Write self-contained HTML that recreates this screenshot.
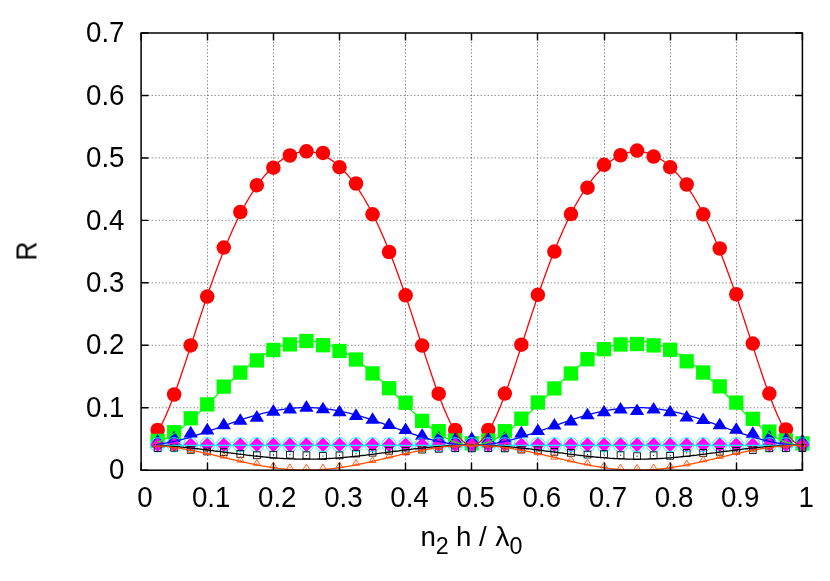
<!DOCTYPE html>
<html><head><meta charset="utf-8"><title>R vs n2 h / lambda0</title>
<style>html,body{margin:0;padding:0;background:#fff}svg{display:block}text{font-family:"Liberation Sans",sans-serif;fill:#000}</style></head><body>
<svg width="830" height="581" viewBox="0 0 830 581">
<rect width="830" height="581" fill="#fff"/>
<path d="M207.5 470.2V33M273.5 470.2V33M339.5 470.2V33M405.5 470.2V33M471.5 470.2V33M537.5 470.2V33M604.5 470.2V33M670.5 470.2V33M736.5 470.2V33M141.1 407.74H802.4M141.1 345.29H802.4M141.1 282.83H802.4M141.1 220.37H802.4M141.1 157.91H802.4M141.1 95.46H802.4" stroke="#000" stroke-opacity="0.5" stroke-width="1" stroke-dasharray="1.3 2.2" fill="none"/>
<g font-size="27.7" opacity="0.999">
<text transform="translate(124.5,479.4) scale(1,1.035)" text-anchor="end">0</text>
<text transform="translate(124.5,416.94) scale(1,1.035)" text-anchor="end">0.1</text>
<text transform="translate(124.5,354.49) scale(1,1.035)" text-anchor="end">0.2</text>
<text transform="translate(124.5,292.03) scale(1,1.035)" text-anchor="end">0.3</text>
<text transform="translate(124.5,229.57) scale(1,1.035)" text-anchor="end">0.4</text>
<text transform="translate(124.5,167.11) scale(1,1.035)" text-anchor="end">0.5</text>
<text transform="translate(124.5,104.66) scale(1,1.035)" text-anchor="end">0.6</text>
<text transform="translate(124.5,42.2) scale(1,1.035)" text-anchor="end">0.7</text>
<text transform="translate(145,507.3) scale(1,1.035)" text-anchor="middle">0</text>
<text transform="translate(211.13,507.3) scale(1,1.035)" text-anchor="middle">0.1</text>
<text transform="translate(277.26,507.3) scale(1,1.035)" text-anchor="middle">0.2</text>
<text transform="translate(343.39,507.3) scale(1,1.035)" text-anchor="middle">0.3</text>
<text transform="translate(409.52,507.3) scale(1,1.035)" text-anchor="middle">0.4</text>
<text transform="translate(475.65,507.3) scale(1,1.035)" text-anchor="middle">0.5</text>
<text transform="translate(541.78,507.3) scale(1,1.035)" text-anchor="middle">0.6</text>
<text transform="translate(607.91,507.3) scale(1,1.035)" text-anchor="middle">0.7</text>
<text transform="translate(674.04,507.3) scale(1,1.035)" text-anchor="middle">0.8</text>
<text transform="translate(740.17,507.3) scale(1,1.035)" text-anchor="middle">0.9</text>
<text transform="translate(806.3,507.3) scale(1,1.035)" text-anchor="middle">1</text>
<text transform="translate(37,251.1) rotate(-90) scale(0.95,1.06)" text-anchor="middle">R</text>
<text x="420.6" y="545.7">n</text>
<text x="435.7" y="553.8" font-size="23.27">2</text>
<text x="456" y="545.7">h</text>
<text x="479.1" y="545.7">/</text>
<text transform="translate(495.3,545.7) scale(1.03,1)">λ</text>
<text x="509.6" y="553.9" font-size="23.27">0</text>
</g>
<g>
<circle cx="157.63" cy="430" r="7.25" fill="#ff0000"/>
<circle cx="174.16" cy="394.5" r="7.25" fill="#ff0000"/>
<circle cx="190.7" cy="345.4" r="7.25" fill="#ff0000"/>
<circle cx="207.23" cy="296.6" r="7.25" fill="#ff0000"/>
<circle cx="223.76" cy="247.6" r="7.25" fill="#ff0000"/>
<circle cx="240.3" cy="212" r="7.25" fill="#ff0000"/>
<circle cx="256.83" cy="185.2" r="7.25" fill="#ff0000"/>
<circle cx="273.36" cy="167.7" r="7.25" fill="#ff0000"/>
<circle cx="289.89" cy="155.5" r="7.25" fill="#ff0000"/>
<circle cx="306.42" cy="151.3" r="7.25" fill="#ff0000"/>
<circle cx="322.96" cy="152.9" r="7.25" fill="#ff0000"/>
<circle cx="339.49" cy="167.2" r="7.25" fill="#ff0000"/>
<circle cx="356.02" cy="183.5" r="7.25" fill="#ff0000"/>
<circle cx="372.56" cy="214.3" r="7.25" fill="#ff0000"/>
<circle cx="389.09" cy="252" r="7.25" fill="#ff0000"/>
<circle cx="405.62" cy="295.3" r="7.25" fill="#ff0000"/>
<circle cx="422.15" cy="345.6" r="7.25" fill="#ff0000"/>
<circle cx="438.68" cy="393.65" r="7.25" fill="#ff0000"/>
<circle cx="455.22" cy="430" r="7.25" fill="#ff0000"/>
<circle cx="471.75" cy="444" r="7.25" fill="#ff0000"/>
<circle cx="488.28" cy="430" r="7.25" fill="#ff0000"/>
<circle cx="504.82" cy="393.6" r="7.25" fill="#ff0000"/>
<circle cx="521.35" cy="344.7" r="7.25" fill="#ff0000"/>
<circle cx="537.88" cy="294.8" r="7.25" fill="#ff0000"/>
<circle cx="554.41" cy="251.6" r="7.25" fill="#ff0000"/>
<circle cx="570.94" cy="214.1" r="7.25" fill="#ff0000"/>
<circle cx="587.48" cy="187.7" r="7.25" fill="#ff0000"/>
<circle cx="604.01" cy="164.8" r="7.25" fill="#ff0000"/>
<circle cx="620.54" cy="155.25" r="7.25" fill="#ff0000"/>
<circle cx="637.07" cy="150.6" r="7.25" fill="#ff0000"/>
<circle cx="653.61" cy="156.6" r="7.25" fill="#ff0000"/>
<circle cx="670.14" cy="167.2" r="7.25" fill="#ff0000"/>
<circle cx="686.67" cy="184.5" r="7.25" fill="#ff0000"/>
<circle cx="703.21" cy="214.3" r="7.25" fill="#ff0000"/>
<circle cx="719.74" cy="248.5" r="7.25" fill="#ff0000"/>
<circle cx="736.27" cy="294.25" r="7.25" fill="#ff0000"/>
<circle cx="752.8" cy="343.6" r="7.25" fill="#ff0000"/>
<circle cx="769.34" cy="393.6" r="7.25" fill="#ff0000"/>
<circle cx="785.87" cy="429.4" r="7.25" fill="#ff0000"/>
<circle cx="802.4" cy="444" r="7.25" fill="#ff0000"/>
</g>
<g>
<rect x="150.48" y="433.75" width="14.3" height="14.3" fill="#00ff00"/>
<rect x="167.01" y="425.05" width="14.3" height="14.3" fill="#00ff00"/>
<rect x="183.55" y="411.15" width="14.3" height="14.3" fill="#00ff00"/>
<rect x="200.08" y="397.25" width="14.3" height="14.3" fill="#00ff00"/>
<rect x="216.61" y="379.45" width="14.3" height="14.3" fill="#00ff00"/>
<rect x="233.15" y="365.45" width="14.3" height="14.3" fill="#00ff00"/>
<rect x="249.68" y="353.25" width="14.3" height="14.3" fill="#00ff00"/>
<rect x="266.21" y="342.85" width="14.3" height="14.3" fill="#00ff00"/>
<rect x="282.74" y="337.25" width="14.3" height="14.3" fill="#00ff00"/>
<rect x="299.27" y="333.85" width="14.3" height="14.3" fill="#00ff00"/>
<rect x="315.81" y="338.05" width="14.3" height="14.3" fill="#00ff00"/>
<rect x="332.34" y="343.85" width="14.3" height="14.3" fill="#00ff00"/>
<rect x="348.87" y="352.35" width="14.3" height="14.3" fill="#00ff00"/>
<rect x="365.41" y="366.25" width="14.3" height="14.3" fill="#00ff00"/>
<rect x="381.94" y="381.05" width="14.3" height="14.3" fill="#00ff00"/>
<rect x="398.47" y="395.55" width="14.3" height="14.3" fill="#00ff00"/>
<rect x="415" y="413.75" width="14.3" height="14.3" fill="#00ff00"/>
<rect x="431.53" y="424.05" width="14.3" height="14.3" fill="#00ff00"/>
<rect x="448.07" y="433.35" width="14.3" height="14.3" fill="#00ff00"/>
<rect x="464.6" y="436.15" width="14.3" height="14.3" fill="#00ff00"/>
<rect x="481.13" y="433.35" width="14.3" height="14.3" fill="#00ff00"/>
<rect x="497.67" y="424.05" width="14.3" height="14.3" fill="#00ff00"/>
<rect x="514.2" y="411.55" width="14.3" height="14.3" fill="#00ff00"/>
<rect x="530.73" y="395.35" width="14.3" height="14.3" fill="#00ff00"/>
<rect x="547.26" y="381.25" width="14.3" height="14.3" fill="#00ff00"/>
<rect x="563.79" y="366.35" width="14.3" height="14.3" fill="#00ff00"/>
<rect x="580.33" y="352.05" width="14.3" height="14.3" fill="#00ff00"/>
<rect x="596.86" y="342.05" width="14.3" height="14.3" fill="#00ff00"/>
<rect x="613.39" y="337.35" width="14.3" height="14.3" fill="#00ff00"/>
<rect x="629.92" y="336.85" width="14.3" height="14.3" fill="#00ff00"/>
<rect x="646.46" y="338.25" width="14.3" height="14.3" fill="#00ff00"/>
<rect x="662.99" y="342.65" width="14.3" height="14.3" fill="#00ff00"/>
<rect x="679.52" y="354.15" width="14.3" height="14.3" fill="#00ff00"/>
<rect x="696.06" y="365.35" width="14.3" height="14.3" fill="#00ff00"/>
<rect x="712.59" y="379.25" width="14.3" height="14.3" fill="#00ff00"/>
<rect x="729.12" y="395.45" width="14.3" height="14.3" fill="#00ff00"/>
<rect x="745.65" y="411.65" width="14.3" height="14.3" fill="#00ff00"/>
<rect x="762.19" y="424.45" width="14.3" height="14.3" fill="#00ff00"/>
<rect x="778.72" y="433.35" width="14.3" height="14.3" fill="#00ff00"/>
<rect x="795.25" y="436.25" width="14.3" height="14.3" fill="#00ff00"/>
</g>
<g>
<path d="M157.63 433.99L164.78 445.57H150.48Z" fill="#0000ff"/>
<path d="M174.16 430.69L181.31 442.27H167.01Z" fill="#0000ff"/>
<path d="M190.7 425.79L197.85 437.38H183.55Z" fill="#0000ff"/>
<path d="M207.23 422.79L214.38 434.38H200.08Z" fill="#0000ff"/>
<path d="M223.76 417.59L230.91 429.18H216.61Z" fill="#0000ff"/>
<path d="M240.3 413.14L247.45 424.72H233.15Z" fill="#0000ff"/>
<path d="M256.83 410.09L263.98 421.68H249.68Z" fill="#0000ff"/>
<path d="M273.36 404.09L280.51 415.68H266.21Z" fill="#0000ff"/>
<path d="M289.89 401.89L297.04 413.47H282.74Z" fill="#0000ff"/>
<path d="M306.42 400.09L313.57 411.68H299.27Z" fill="#0000ff"/>
<path d="M322.96 401.69L330.11 413.27H315.81Z" fill="#0000ff"/>
<path d="M339.49 404.69L346.64 416.27H332.34Z" fill="#0000ff"/>
<path d="M356.02 408.29L363.17 419.88H348.87Z" fill="#0000ff"/>
<path d="M372.56 412.19L379.7 423.77H365.41Z" fill="#0000ff"/>
<path d="M389.09 417.39L396.24 428.97H381.94Z" fill="#0000ff"/>
<path d="M405.62 422.49L412.77 434.07H398.47Z" fill="#0000ff"/>
<path d="M422.15 428.19L429.3 439.77H415Z" fill="#0000ff"/>
<path d="M438.68 430.69L445.83 442.27H431.53Z" fill="#0000ff"/>
<path d="M455.22 432.19L462.37 443.77H448.07Z" fill="#0000ff"/>
<path d="M471.75 431.49L478.9 443.07H464.6Z" fill="#0000ff"/>
<path d="M488.28 431.89L495.43 443.47H481.13Z" fill="#0000ff"/>
<path d="M504.82 430.99L511.97 442.57H497.67Z" fill="#0000ff"/>
<path d="M521.35 425.79L528.5 437.38H514.2Z" fill="#0000ff"/>
<path d="M537.88 423.39L545.03 434.97H530.73Z" fill="#0000ff"/>
<path d="M554.41 417.99L561.56 429.57H547.26Z" fill="#0000ff"/>
<path d="M570.94 413.99L578.09 425.57H563.79Z" fill="#0000ff"/>
<path d="M587.48 407.69L594.63 419.27H580.33Z" fill="#0000ff"/>
<path d="M604.01 404.69L611.16 416.27H596.86Z" fill="#0000ff"/>
<path d="M620.54 401.89L627.69 413.47H613.39Z" fill="#0000ff"/>
<path d="M637.07 403.49L644.22 415.07H629.92Z" fill="#0000ff"/>
<path d="M653.61 401.89L660.76 413.47H646.46Z" fill="#0000ff"/>
<path d="M670.14 404.69L677.29 416.27H662.99Z" fill="#0000ff"/>
<path d="M686.67 409.89L693.82 421.47H679.52Z" fill="#0000ff"/>
<path d="M703.21 412.49L710.36 424.07H696.06Z" fill="#0000ff"/>
<path d="M719.74 417.69L726.89 429.27H712.59Z" fill="#0000ff"/>
<path d="M736.27 422.19L743.42 433.77H729.12Z" fill="#0000ff"/>
<path d="M752.8 426.19L759.95 437.77H745.65Z" fill="#0000ff"/>
<path d="M769.34 430.09L776.49 441.68H762.19Z" fill="#0000ff"/>
<path d="M785.87 432.49L793.02 444.07H778.72Z" fill="#0000ff"/>
<path d="M802.4 433.69L809.55 445.27H795.25Z" fill="#0000ff"/>
</g>
<g>
<path d="M157.63 437.4L165.03 444.8L157.63 452.2L150.23 444.8Z" fill="#ff00ff"/>
<path d="M174.16 437.4L181.56 444.8L174.16 452.2L166.76 444.8Z" fill="#ff00ff"/>
<path d="M190.7 437.4L198.1 444.8L190.7 452.2L183.3 444.8Z" fill="#ff00ff"/>
<path d="M207.23 437.4L214.63 444.8L207.23 452.2L199.83 444.8Z" fill="#ff00ff"/>
<path d="M223.76 437.4L231.16 444.8L223.76 452.2L216.36 444.8Z" fill="#ff00ff"/>
<path d="M240.3 437.4L247.7 444.8L240.3 452.2L232.9 444.8Z" fill="#ff00ff"/>
<path d="M256.83 437.4L264.23 444.8L256.83 452.2L249.43 444.8Z" fill="#ff00ff"/>
<path d="M273.36 437.4L280.76 444.8L273.36 452.2L265.96 444.8Z" fill="#ff00ff"/>
<path d="M289.89 437.4L297.29 444.8L289.89 452.2L282.49 444.8Z" fill="#ff00ff"/>
<path d="M306.42 437.4L313.82 444.8L306.42 452.2L299.02 444.8Z" fill="#ff00ff"/>
<path d="M322.96 437.4L330.36 444.8L322.96 452.2L315.56 444.8Z" fill="#ff00ff"/>
<path d="M339.49 437.4L346.89 444.8L339.49 452.2L332.09 444.8Z" fill="#ff00ff"/>
<path d="M356.02 437.4L363.42 444.8L356.02 452.2L348.62 444.8Z" fill="#ff00ff"/>
<path d="M372.56 437.4L379.95 444.8L372.56 452.2L365.16 444.8Z" fill="#ff00ff"/>
<path d="M389.09 437.4L396.49 444.8L389.09 452.2L381.69 444.8Z" fill="#ff00ff"/>
<path d="M405.62 437.4L413.02 444.8L405.62 452.2L398.22 444.8Z" fill="#ff00ff"/>
<path d="M422.15 437.4L429.55 444.8L422.15 452.2L414.75 444.8Z" fill="#ff00ff"/>
<path d="M438.68 437.4L446.08 444.8L438.68 452.2L431.28 444.8Z" fill="#ff00ff"/>
<path d="M455.22 437.4L462.62 444.8L455.22 452.2L447.82 444.8Z" fill="#ff00ff"/>
<path d="M471.75 437.4L479.15 444.8L471.75 452.2L464.35 444.8Z" fill="#ff00ff"/>
<path d="M488.28 437.4L495.68 444.8L488.28 452.2L480.88 444.8Z" fill="#ff00ff"/>
<path d="M504.82 437.4L512.22 444.8L504.82 452.2L497.42 444.8Z" fill="#ff00ff"/>
<path d="M521.35 437.4L528.75 444.8L521.35 452.2L513.95 444.8Z" fill="#ff00ff"/>
<path d="M537.88 437.4L545.28 444.8L537.88 452.2L530.48 444.8Z" fill="#ff00ff"/>
<path d="M554.41 437.4L561.81 444.8L554.41 452.2L547.01 444.8Z" fill="#ff00ff"/>
<path d="M570.94 437.4L578.34 444.8L570.94 452.2L563.54 444.8Z" fill="#ff00ff"/>
<path d="M587.48 437.4L594.88 444.8L587.48 452.2L580.08 444.8Z" fill="#ff00ff"/>
<path d="M604.01 437.4L611.41 444.8L604.01 452.2L596.61 444.8Z" fill="#ff00ff"/>
<path d="M620.54 437.4L627.94 444.8L620.54 452.2L613.14 444.8Z" fill="#ff00ff"/>
<path d="M637.07 437.4L644.47 444.8L637.07 452.2L629.67 444.8Z" fill="#ff00ff"/>
<path d="M653.61 437.4L661.01 444.8L653.61 452.2L646.21 444.8Z" fill="#ff00ff"/>
<path d="M670.14 437.4L677.54 444.8L670.14 452.2L662.74 444.8Z" fill="#ff00ff"/>
<path d="M686.67 437.4L694.07 444.8L686.67 452.2L679.27 444.8Z" fill="#ff00ff"/>
<path d="M703.21 437.4L710.61 444.8L703.21 452.2L695.81 444.8Z" fill="#ff00ff"/>
<path d="M719.74 437.4L727.14 444.8L719.74 452.2L712.34 444.8Z" fill="#ff00ff"/>
<path d="M736.27 437.4L743.67 444.8L736.27 452.2L728.87 444.8Z" fill="#ff00ff"/>
<path d="M752.8 437.4L760.2 444.8L752.8 452.2L745.4 444.8Z" fill="#ff00ff"/>
<path d="M769.34 437.4L776.74 444.8L769.34 452.2L761.94 444.8Z" fill="#ff00ff"/>
<path d="M785.87 437.4L793.27 444.8L785.87 452.2L778.47 444.8Z" fill="#ff00ff"/>
<path d="M802.4 437.4L809.8 444.8L802.4 452.2L795 444.8Z" fill="#ff00ff"/>
</g>
<g>
<circle cx="157.63" cy="444.8" r="7.15" fill="none" stroke="#00ffff" stroke-width="1.0"/>
<circle cx="174.16" cy="444.8" r="7.15" fill="none" stroke="#00ffff" stroke-width="1.0"/>
<circle cx="190.7" cy="444.8" r="7.15" fill="none" stroke="#00ffff" stroke-width="1.0"/>
<circle cx="207.23" cy="444.8" r="7.15" fill="none" stroke="#00ffff" stroke-width="1.0"/>
<circle cx="223.76" cy="444.8" r="7.15" fill="none" stroke="#00ffff" stroke-width="1.0"/>
<circle cx="240.3" cy="444.8" r="7.15" fill="none" stroke="#00ffff" stroke-width="1.0"/>
<circle cx="256.83" cy="444.8" r="7.15" fill="none" stroke="#00ffff" stroke-width="1.0"/>
<circle cx="273.36" cy="444.8" r="7.15" fill="none" stroke="#00ffff" stroke-width="1.0"/>
<circle cx="289.89" cy="444.8" r="7.15" fill="none" stroke="#00ffff" stroke-width="1.0"/>
<circle cx="306.42" cy="444.8" r="7.15" fill="none" stroke="#00ffff" stroke-width="1.0"/>
<circle cx="322.96" cy="444.8" r="7.15" fill="none" stroke="#00ffff" stroke-width="1.0"/>
<circle cx="339.49" cy="444.8" r="7.15" fill="none" stroke="#00ffff" stroke-width="1.0"/>
<circle cx="356.02" cy="444.8" r="7.15" fill="none" stroke="#00ffff" stroke-width="1.0"/>
<circle cx="372.56" cy="444.8" r="7.15" fill="none" stroke="#00ffff" stroke-width="1.0"/>
<circle cx="389.09" cy="444.8" r="7.15" fill="none" stroke="#00ffff" stroke-width="1.0"/>
<circle cx="405.62" cy="444.8" r="7.15" fill="none" stroke="#00ffff" stroke-width="1.0"/>
<circle cx="422.15" cy="444.8" r="7.15" fill="none" stroke="#00ffff" stroke-width="1.0"/>
<circle cx="438.68" cy="444.8" r="7.15" fill="none" stroke="#00ffff" stroke-width="1.0"/>
<circle cx="455.22" cy="444.8" r="7.15" fill="none" stroke="#00ffff" stroke-width="1.0"/>
<circle cx="471.75" cy="444.8" r="7.15" fill="none" stroke="#00ffff" stroke-width="1.0"/>
<circle cx="488.28" cy="444.8" r="7.15" fill="none" stroke="#00ffff" stroke-width="1.0"/>
<circle cx="504.82" cy="444.8" r="7.15" fill="none" stroke="#00ffff" stroke-width="1.0"/>
<circle cx="521.35" cy="444.8" r="7.15" fill="none" stroke="#00ffff" stroke-width="1.0"/>
<circle cx="537.88" cy="444.8" r="7.15" fill="none" stroke="#00ffff" stroke-width="1.0"/>
<circle cx="554.41" cy="444.8" r="7.15" fill="none" stroke="#00ffff" stroke-width="1.0"/>
<circle cx="570.94" cy="444.8" r="7.15" fill="none" stroke="#00ffff" stroke-width="1.0"/>
<circle cx="587.48" cy="444.8" r="7.15" fill="none" stroke="#00ffff" stroke-width="1.0"/>
<circle cx="604.01" cy="444.8" r="7.15" fill="none" stroke="#00ffff" stroke-width="1.0"/>
<circle cx="620.54" cy="444.8" r="7.15" fill="none" stroke="#00ffff" stroke-width="1.0"/>
<circle cx="637.07" cy="444.8" r="7.15" fill="none" stroke="#00ffff" stroke-width="1.0"/>
<circle cx="653.61" cy="444.8" r="7.15" fill="none" stroke="#00ffff" stroke-width="1.0"/>
<circle cx="670.14" cy="444.8" r="7.15" fill="none" stroke="#00ffff" stroke-width="1.0"/>
<circle cx="686.67" cy="444.8" r="7.15" fill="none" stroke="#00ffff" stroke-width="1.0"/>
<circle cx="703.21" cy="444.8" r="7.15" fill="none" stroke="#00ffff" stroke-width="1.0"/>
<circle cx="719.74" cy="444.8" r="7.15" fill="none" stroke="#00ffff" stroke-width="1.0"/>
<circle cx="736.27" cy="444.8" r="7.15" fill="none" stroke="#00ffff" stroke-width="1.0"/>
<circle cx="752.8" cy="444.8" r="7.15" fill="none" stroke="#00ffff" stroke-width="1.0"/>
<circle cx="769.34" cy="444.8" r="7.15" fill="none" stroke="#00ffff" stroke-width="1.0"/>
<circle cx="785.87" cy="444.8" r="7.15" fill="none" stroke="#00ffff" stroke-width="1.0"/>
<circle cx="802.4" cy="444.8" r="7.15" fill="none" stroke="#00ffff" stroke-width="1.0"/>
</g>
<g>
<rect x="154.23" y="444.6" width="6.8" height="6.8" fill="none" stroke="#000000" stroke-width="0.85"/><circle cx="157.63" cy="448" r="0.6" fill="#000000"/>
<rect x="170.76" y="444.3" width="6.8" height="6.8" fill="none" stroke="#000000" stroke-width="0.85"/><circle cx="174.16" cy="447.7" r="0.6" fill="#000000"/>
<rect x="187.3" y="446.5" width="6.8" height="6.8" fill="none" stroke="#000000" stroke-width="0.85"/><circle cx="190.7" cy="449.9" r="0.6" fill="#000000"/>
<rect x="203.83" y="448.1" width="6.8" height="6.8" fill="none" stroke="#000000" stroke-width="0.85"/><circle cx="207.23" cy="451.5" r="0.6" fill="#000000"/>
<rect x="220.36" y="448.8" width="6.8" height="6.8" fill="none" stroke="#000000" stroke-width="0.85"/><circle cx="223.76" cy="452.2" r="0.6" fill="#000000"/>
<rect x="236.9" y="450.5" width="6.8" height="6.8" fill="none" stroke="#000000" stroke-width="0.85"/><circle cx="240.3" cy="453.9" r="0.6" fill="#000000"/>
<rect x="253.43" y="451.9" width="6.8" height="6.8" fill="none" stroke="#000000" stroke-width="0.85"/><circle cx="256.83" cy="455.3" r="0.6" fill="#000000"/>
<rect x="269.96" y="451.3" width="6.8" height="6.8" fill="none" stroke="#000000" stroke-width="0.85"/><circle cx="273.36" cy="454.7" r="0.6" fill="#000000"/>
<rect x="286.49" y="451.3" width="6.8" height="6.8" fill="none" stroke="#000000" stroke-width="0.85"/><circle cx="289.89" cy="454.7" r="0.6" fill="#000000"/>
<rect x="303.02" y="451.9" width="6.8" height="6.8" fill="none" stroke="#000000" stroke-width="0.85"/><circle cx="306.42" cy="455.3" r="0.6" fill="#000000"/>
<rect x="319.56" y="452.6" width="6.8" height="6.8" fill="none" stroke="#000000" stroke-width="0.85"/><circle cx="322.96" cy="456" r="0.6" fill="#000000"/>
<rect x="336.09" y="452" width="6.8" height="6.8" fill="none" stroke="#000000" stroke-width="0.85"/><circle cx="339.49" cy="455.4" r="0.6" fill="#000000"/>
<rect x="352.62" y="450.2" width="6.8" height="6.8" fill="none" stroke="#000000" stroke-width="0.85"/><circle cx="356.02" cy="453.6" r="0.6" fill="#000000"/>
<rect x="369.16" y="449.3" width="6.8" height="6.8" fill="none" stroke="#000000" stroke-width="0.85"/><circle cx="372.56" cy="452.7" r="0.6" fill="#000000"/>
<rect x="385.69" y="447.3" width="6.8" height="6.8" fill="none" stroke="#000000" stroke-width="0.85"/><circle cx="389.09" cy="450.7" r="0.6" fill="#000000"/>
<rect x="402.22" y="447.6" width="6.8" height="6.8" fill="none" stroke="#000000" stroke-width="0.85"/><circle cx="405.62" cy="451" r="0.6" fill="#000000"/>
<rect x="418.75" y="446.2" width="6.8" height="6.8" fill="none" stroke="#000000" stroke-width="0.85"/><circle cx="422.15" cy="449.6" r="0.6" fill="#000000"/>
<rect x="435.28" y="445.4" width="6.8" height="6.8" fill="none" stroke="#000000" stroke-width="0.85"/><circle cx="438.68" cy="448.8" r="0.6" fill="#000000"/>
<rect x="451.82" y="444.8" width="6.8" height="6.8" fill="none" stroke="#000000" stroke-width="0.85"/><circle cx="455.22" cy="448.2" r="0.6" fill="#000000"/>
<rect x="468.35" y="445" width="6.8" height="6.8" fill="none" stroke="#000000" stroke-width="0.85"/><circle cx="471.75" cy="448.4" r="0.6" fill="#000000"/>
<rect x="484.88" y="444.8" width="6.8" height="6.8" fill="none" stroke="#000000" stroke-width="0.85"/><circle cx="488.28" cy="448.2" r="0.6" fill="#000000"/>
<rect x="501.42" y="445" width="6.8" height="6.8" fill="none" stroke="#000000" stroke-width="0.85"/><circle cx="504.82" cy="448.4" r="0.6" fill="#000000"/>
<rect x="517.95" y="446.2" width="6.8" height="6.8" fill="none" stroke="#000000" stroke-width="0.85"/><circle cx="521.35" cy="449.6" r="0.6" fill="#000000"/>
<rect x="534.48" y="446.9" width="6.8" height="6.8" fill="none" stroke="#000000" stroke-width="0.85"/><circle cx="537.88" cy="450.3" r="0.6" fill="#000000"/>
<rect x="551.01" y="448.4" width="6.8" height="6.8" fill="none" stroke="#000000" stroke-width="0.85"/><circle cx="554.41" cy="451.8" r="0.6" fill="#000000"/>
<rect x="567.54" y="449.4" width="6.8" height="6.8" fill="none" stroke="#000000" stroke-width="0.85"/><circle cx="570.94" cy="452.8" r="0.6" fill="#000000"/>
<rect x="584.08" y="451.2" width="6.8" height="6.8" fill="none" stroke="#000000" stroke-width="0.85"/><circle cx="587.48" cy="454.6" r="0.6" fill="#000000"/>
<rect x="600.61" y="450.7" width="6.8" height="6.8" fill="none" stroke="#000000" stroke-width="0.85"/><circle cx="604.01" cy="454.1" r="0.6" fill="#000000"/>
<rect x="617.14" y="451.8" width="6.8" height="6.8" fill="none" stroke="#000000" stroke-width="0.85"/><circle cx="620.54" cy="455.2" r="0.6" fill="#000000"/>
<rect x="633.67" y="452.8" width="6.8" height="6.8" fill="none" stroke="#000000" stroke-width="0.85"/><circle cx="637.07" cy="456.2" r="0.6" fill="#000000"/>
<rect x="650.21" y="451.9" width="6.8" height="6.8" fill="none" stroke="#000000" stroke-width="0.85"/><circle cx="653.61" cy="455.3" r="0.6" fill="#000000"/>
<rect x="666.74" y="452.4" width="6.8" height="6.8" fill="none" stroke="#000000" stroke-width="0.85"/><circle cx="670.14" cy="455.8" r="0.6" fill="#000000"/>
<rect x="683.27" y="449.6" width="6.8" height="6.8" fill="none" stroke="#000000" stroke-width="0.85"/><circle cx="686.67" cy="453" r="0.6" fill="#000000"/>
<rect x="699.81" y="449.5" width="6.8" height="6.8" fill="none" stroke="#000000" stroke-width="0.85"/><circle cx="703.21" cy="452.9" r="0.6" fill="#000000"/>
<rect x="716.34" y="448.4" width="6.8" height="6.8" fill="none" stroke="#000000" stroke-width="0.85"/><circle cx="719.74" cy="451.8" r="0.6" fill="#000000"/>
<rect x="732.87" y="447.5" width="6.8" height="6.8" fill="none" stroke="#000000" stroke-width="0.85"/><circle cx="736.27" cy="450.9" r="0.6" fill="#000000"/>
<rect x="749.4" y="446.7" width="6.8" height="6.8" fill="none" stroke="#000000" stroke-width="0.85"/><circle cx="752.8" cy="450.1" r="0.6" fill="#000000"/>
<rect x="765.94" y="444.9" width="6.8" height="6.8" fill="none" stroke="#000000" stroke-width="0.85"/><circle cx="769.34" cy="448.3" r="0.6" fill="#000000"/>
<rect x="782.47" y="444.7" width="6.8" height="6.8" fill="none" stroke="#000000" stroke-width="0.85"/><circle cx="785.87" cy="448.1" r="0.6" fill="#000000"/>
<rect x="799" y="444.6" width="6.8" height="6.8" fill="none" stroke="#000000" stroke-width="0.85"/><circle cx="802.4" cy="448" r="0.6" fill="#000000"/>
</g>
<g>
<path d="M157.63 441.08L161.13 446.75H154.13Z" fill="none" stroke="#ff4d00" stroke-width="0.9"/><circle cx="157.63" cy="445" r="0.6" fill="#ff4d00"/>
<path d="M174.16 444.08L177.66 449.75H170.66Z" fill="none" stroke="#ff4d00" stroke-width="0.9"/><circle cx="174.16" cy="448" r="0.6" fill="#ff4d00"/>
<path d="M190.7 446.98L194.2 452.65H187.2Z" fill="none" stroke="#ff4d00" stroke-width="0.9"/><circle cx="190.7" cy="450.9" r="0.6" fill="#ff4d00"/>
<path d="M207.23 448.48L210.73 454.15H203.73Z" fill="none" stroke="#ff4d00" stroke-width="0.9"/><circle cx="207.23" cy="452.4" r="0.6" fill="#ff4d00"/>
<path d="M223.76 452.38L227.26 458.05H220.26Z" fill="none" stroke="#ff4d00" stroke-width="0.9"/><circle cx="223.76" cy="456.3" r="0.6" fill="#ff4d00"/>
<path d="M240.3 456.48L243.8 462.15H236.8Z" fill="none" stroke="#ff4d00" stroke-width="0.9"/><circle cx="240.3" cy="460.4" r="0.6" fill="#ff4d00"/>
<path d="M256.83 459.58L260.33 465.25H253.33Z" fill="none" stroke="#ff4d00" stroke-width="0.9"/><circle cx="256.83" cy="463.5" r="0.6" fill="#ff4d00"/>
<path d="M273.36 462.18L276.86 467.85H269.86Z" fill="none" stroke="#ff4d00" stroke-width="0.9"/><circle cx="273.36" cy="466.1" r="0.6" fill="#ff4d00"/>
<path d="M289.89 463.78L293.39 469.45H286.39Z" fill="none" stroke="#ff4d00" stroke-width="0.9"/><circle cx="289.89" cy="467.7" r="0.6" fill="#ff4d00"/>
<path d="M306.42 464.08L309.92 469.75H302.92Z" fill="none" stroke="#ff4d00" stroke-width="0.9"/><circle cx="306.42" cy="468" r="0.6" fill="#ff4d00"/>
<path d="M322.96 464.08L326.46 469.75H319.46Z" fill="none" stroke="#ff4d00" stroke-width="0.9"/><circle cx="322.96" cy="468" r="0.6" fill="#ff4d00"/>
<path d="M339.49 461.98L342.99 467.65H335.99Z" fill="none" stroke="#ff4d00" stroke-width="0.9"/><circle cx="339.49" cy="465.9" r="0.6" fill="#ff4d00"/>
<path d="M356.02 459.58L359.52 465.25H352.52Z" fill="none" stroke="#ff4d00" stroke-width="0.9"/><circle cx="356.02" cy="463.5" r="0.6" fill="#ff4d00"/>
<path d="M372.56 456.88L376.06 462.55H369.06Z" fill="none" stroke="#ff4d00" stroke-width="0.9"/><circle cx="372.56" cy="460.8" r="0.6" fill="#ff4d00"/>
<path d="M389.09 452.28L392.59 457.95H385.59Z" fill="none" stroke="#ff4d00" stroke-width="0.9"/><circle cx="389.09" cy="456.2" r="0.6" fill="#ff4d00"/>
<path d="M405.62 449.28L409.12 454.95H402.12Z" fill="none" stroke="#ff4d00" stroke-width="0.9"/><circle cx="405.62" cy="453.2" r="0.6" fill="#ff4d00"/>
<path d="M422.15 446.08L425.65 451.75H418.65Z" fill="none" stroke="#ff4d00" stroke-width="0.9"/><circle cx="422.15" cy="450" r="0.6" fill="#ff4d00"/>
<path d="M438.68 443.68L442.18 449.35H435.18Z" fill="none" stroke="#ff4d00" stroke-width="0.9"/><circle cx="438.68" cy="447.6" r="0.6" fill="#ff4d00"/>
<path d="M455.22 441.48L458.72 447.15H451.72Z" fill="none" stroke="#ff4d00" stroke-width="0.9"/><circle cx="455.22" cy="445.4" r="0.6" fill="#ff4d00"/>
<path d="M471.75 440.98L475.25 446.65H468.25Z" fill="none" stroke="#ff4d00" stroke-width="0.9"/><circle cx="471.75" cy="444.9" r="0.6" fill="#ff4d00"/>
<path d="M488.28 441.48L491.78 447.15H484.78Z" fill="none" stroke="#ff4d00" stroke-width="0.9"/><circle cx="488.28" cy="445.4" r="0.6" fill="#ff4d00"/>
<path d="M504.82 444.08L508.32 449.75H501.32Z" fill="none" stroke="#ff4d00" stroke-width="0.9"/><circle cx="504.82" cy="448" r="0.6" fill="#ff4d00"/>
<path d="M521.35 446.98L524.85 452.65H517.85Z" fill="none" stroke="#ff4d00" stroke-width="0.9"/><circle cx="521.35" cy="450.9" r="0.6" fill="#ff4d00"/>
<path d="M537.88 449.08L541.38 454.75H534.38Z" fill="none" stroke="#ff4d00" stroke-width="0.9"/><circle cx="537.88" cy="453" r="0.6" fill="#ff4d00"/>
<path d="M554.41 453.48L557.91 459.15H550.91Z" fill="none" stroke="#ff4d00" stroke-width="0.9"/><circle cx="554.41" cy="457.4" r="0.6" fill="#ff4d00"/>
<path d="M570.94 456.18L574.44 461.85H567.44Z" fill="none" stroke="#ff4d00" stroke-width="0.9"/><circle cx="570.94" cy="460.1" r="0.6" fill="#ff4d00"/>
<path d="M587.48 459.28L590.98 464.95H583.98Z" fill="none" stroke="#ff4d00" stroke-width="0.9"/><circle cx="587.48" cy="463.2" r="0.6" fill="#ff4d00"/>
<path d="M604.01 462.18L607.51 467.85H600.51Z" fill="none" stroke="#ff4d00" stroke-width="0.9"/><circle cx="604.01" cy="466.1" r="0.6" fill="#ff4d00"/>
<path d="M620.54 464.08L624.04 469.75H617.04Z" fill="none" stroke="#ff4d00" stroke-width="0.9"/><circle cx="620.54" cy="468" r="0.6" fill="#ff4d00"/>
<path d="M637.07 464.38L640.57 470.05H633.57Z" fill="none" stroke="#ff4d00" stroke-width="0.9"/><circle cx="637.07" cy="468.3" r="0.6" fill="#ff4d00"/>
<path d="M653.61 464.08L657.11 469.75H650.11Z" fill="none" stroke="#ff4d00" stroke-width="0.9"/><circle cx="653.61" cy="468" r="0.6" fill="#ff4d00"/>
<path d="M670.14 462.58L673.64 468.25H666.64Z" fill="none" stroke="#ff4d00" stroke-width="0.9"/><circle cx="670.14" cy="466.5" r="0.6" fill="#ff4d00"/>
<path d="M686.67 460.18L690.17 465.85H683.17Z" fill="none" stroke="#ff4d00" stroke-width="0.9"/><circle cx="686.67" cy="464.1" r="0.6" fill="#ff4d00"/>
<path d="M703.21 456.18L706.71 461.85H699.71Z" fill="none" stroke="#ff4d00" stroke-width="0.9"/><circle cx="703.21" cy="460.1" r="0.6" fill="#ff4d00"/>
<path d="M719.74 452.68L723.24 458.35H716.24Z" fill="none" stroke="#ff4d00" stroke-width="0.9"/><circle cx="719.74" cy="456.6" r="0.6" fill="#ff4d00"/>
<path d="M736.27 448.78L739.77 454.45H732.77Z" fill="none" stroke="#ff4d00" stroke-width="0.9"/><circle cx="736.27" cy="452.7" r="0.6" fill="#ff4d00"/>
<path d="M752.8 446.08L756.3 451.75H749.3Z" fill="none" stroke="#ff4d00" stroke-width="0.9"/><circle cx="752.8" cy="450" r="0.6" fill="#ff4d00"/>
<path d="M769.34 443.68L772.84 449.35H765.84Z" fill="none" stroke="#ff4d00" stroke-width="0.9"/><circle cx="769.34" cy="447.6" r="0.6" fill="#ff4d00"/>
<path d="M785.87 441.48L789.37 447.15H782.37Z" fill="none" stroke="#ff4d00" stroke-width="0.9"/><circle cx="785.87" cy="445.4" r="0.6" fill="#ff4d00"/>
<path d="M802.4 440.98L805.9 446.65H798.9Z" fill="none" stroke="#ff4d00" stroke-width="0.9"/><circle cx="802.4" cy="444.9" r="0.6" fill="#ff4d00"/>
</g>
<polyline points="157.63,431.45 159.29,428.67 160.94,425.67 162.59,422.45 164.25,419.02 165.9,415.41 167.55,411.61 169.21,407.65 170.86,403.53 172.51,399.26 174.16,394.87 175.82,390.35 177.47,385.72 179.12,381 180.78,376.19 182.43,371.31 184.08,366.37 185.74,361.37 187.39,356.34 189.04,351.27 190.7,346.18 192.35,341.07 194,335.97 195.66,330.87 197.31,325.78 198.96,320.71 200.62,315.66 202.27,310.65 203.92,305.68 205.58,300.76 207.23,295.88 208.88,291.06 210.54,286.3 212.19,281.6 213.84,276.97 215.5,272.41 217.15,267.92 218.8,263.51 220.46,259.18 222.11,254.93 223.76,250.76 225.42,246.67 227.07,242.67 228.72,238.76 230.38,234.93 232.03,231.19 233.68,227.55 235.34,223.99 236.99,220.52 238.64,217.14 240.29,213.85 241.95,210.65 243.6,207.55 245.25,204.53 246.91,201.6 248.56,198.76 250.21,196.01 251.87,193.35 253.52,190.78 255.17,188.29 256.83,185.89 258.48,183.58 260.13,181.35 261.79,179.21 263.44,177.15 265.09,175.18 266.75,173.29 268.4,171.48 270.05,169.76 271.71,168.11 273.36,166.55 275.01,165.07 276.67,163.67 278.32,162.34 279.97,161.1 281.63,159.93 283.28,158.84 284.93,157.83 286.59,156.89 288.24,156.04 289.89,155.25 291.55,154.55 293.2,153.91 294.85,153.36 296.51,152.87 298.16,152.47 299.81,152.13 301.47,151.87 303.12,151.69 304.77,151.58 306.42,151.54 308.08,151.58 309.73,151.69 311.38,151.87 313.04,152.13 314.69,152.47 316.34,152.87 318,153.36 319.65,153.91 321.3,154.55 322.96,155.25 324.61,156.04 326.26,156.89 327.92,157.83 329.57,158.84 331.22,159.93 332.88,161.1 334.53,162.34 336.18,163.67 337.84,165.07 339.49,166.55 341.14,168.11 342.8,169.76 344.45,171.48 346.1,173.29 347.76,175.18 349.41,177.15 351.06,179.21 352.72,181.35 354.37,183.58 356.02,185.89 357.68,188.29 359.33,190.78 360.98,193.35 362.64,196.01 364.29,198.76 365.94,201.6 367.6,204.53 369.25,207.55 370.9,210.65 372.56,213.85 374.21,217.14 375.86,220.52 377.51,223.99 379.17,227.55 380.82,231.19 382.47,234.93 384.13,238.76 385.78,242.67 387.43,246.67 389.09,250.76 390.74,254.93 392.39,259.18 394.05,263.51 395.7,267.92 397.35,272.41 399.01,276.97 400.66,281.6 402.31,286.3 403.97,291.06 405.62,295.88 407.27,300.76 408.93,305.68 410.58,310.65 412.23,315.66 413.89,320.71 415.54,325.78 417.19,330.87 418.85,335.97 420.5,341.07 422.15,346.18 423.81,351.27 425.46,356.34 427.11,361.37 428.77,366.37 430.42,371.31 432.07,376.19 433.73,381 435.38,385.72 437.03,390.35 438.68,394.87 440.34,399.26 441.99,403.53 443.64,407.65 445.3,411.61 446.95,415.41 448.6,419.02 450.26,422.45 451.91,425.67 453.56,428.67 455.22,431.45 456.87,434 458.52,436.31 460.18,438.37 461.83,440.16 463.48,441.69 465.14,442.96 466.79,443.94 468.44,444.65 470.1,445.08 471.75,445.22 473.4,445.08 475.06,444.65 476.71,443.94 478.36,442.96 480.02,441.69 481.67,440.16 483.32,438.37 484.98,436.31 486.63,434 488.28,431.45 489.94,428.67 491.59,425.67 493.24,422.45 494.9,419.02 496.55,415.41 498.2,411.61 499.86,407.65 501.51,403.53 503.16,399.26 504.82,394.87 506.47,390.35 508.12,385.72 509.77,381 511.43,376.19 513.08,371.31 514.73,366.37 516.39,361.37 518.04,356.34 519.69,351.27 521.35,346.18 523,341.07 524.65,335.97 526.31,330.87 527.96,325.78 529.61,320.71 531.27,315.66 532.92,310.65 534.57,305.68 536.23,300.76 537.88,295.88 539.53,291.06 541.19,286.3 542.84,281.6 544.49,276.97 546.15,272.41 547.8,267.92 549.45,263.51 551.11,259.18 552.76,254.93 554.41,250.76 556.07,246.67 557.72,242.67 559.37,238.76 561.03,234.93 562.68,231.19 564.33,227.55 565.99,223.99 567.64,220.52 569.29,217.14 570.94,213.85 572.6,210.65 574.25,207.55 575.9,204.53 577.56,201.6 579.21,198.76 580.86,196.01 582.52,193.35 584.17,190.78 585.82,188.29 587.48,185.89 589.13,183.58 590.78,181.35 592.44,179.21 594.09,177.15 595.74,175.18 597.4,173.29 599.05,171.48 600.7,169.76 602.36,168.11 604.01,166.55 605.66,165.07 607.32,163.67 608.97,162.34 610.62,161.1 612.28,159.93 613.93,158.84 615.58,157.83 617.24,156.89 618.89,156.04 620.54,155.25 622.2,154.55 623.85,153.91 625.5,153.36 627.16,152.87 628.81,152.47 630.46,152.13 632.12,151.87 633.77,151.69 635.42,151.58 637.07,151.54 638.73,151.58 640.38,151.69 642.03,151.87 643.69,152.13 645.34,152.47 646.99,152.87 648.65,153.36 650.3,153.91 651.95,154.55 653.61,155.25 655.26,156.04 656.91,156.89 658.57,157.83 660.22,158.84 661.87,159.93 663.53,161.1 665.18,162.34 666.83,163.67 668.49,165.07 670.14,166.55 671.79,168.11 673.45,169.76 675.1,171.48 676.75,173.29 678.41,175.18 680.06,177.15 681.71,179.21 683.37,181.35 685.02,183.58 686.67,185.89 688.33,188.29 689.98,190.78 691.63,193.35 693.29,196.01 694.94,198.76 696.59,201.6 698.25,204.53 699.9,207.55 701.55,210.65 703.2,213.85 704.86,217.14 706.51,220.52 708.16,223.99 709.82,227.55 711.47,231.19 713.12,234.93 714.78,238.76 716.43,242.67 718.08,246.67 719.74,250.76 721.39,254.93 723.04,259.18 724.7,263.51 726.35,267.92 728,272.41 729.66,276.97 731.31,281.6 732.96,286.3 734.62,291.06 736.27,295.88 737.92,300.76 739.58,305.68 741.23,310.65 742.88,315.66 744.54,320.71 746.19,325.78 747.84,330.87 749.5,335.97 751.15,341.07 752.8,346.18 754.46,351.27 756.11,356.34 757.76,361.37 759.42,366.37 761.07,371.31 762.72,376.19 764.38,381 766.03,385.72 767.68,390.35 769.34,394.87 770.99,399.26 772.64,403.53 774.29,407.65 775.95,411.61 777.6,415.41 779.25,419.02 780.91,422.45 782.56,425.67 784.21,428.67 785.87,431.45 787.52,434 789.17,436.31 790.83,438.37 792.48,440.16 794.13,441.69 795.79,442.96 797.44,443.94 799.09,444.65 800.75,445.08 802.4,445.22" fill="none" stroke="#ff0000" stroke-width="1.3" stroke-linejoin="round"/>
<polyline points="157.63,442.15 159.29,441.52 160.94,440.83 162.59,440.08 164.25,439.28 165.9,438.43 167.55,437.53 169.21,436.58 170.86,435.57 172.51,434.52 174.16,433.43 175.82,432.29 177.47,431.11 179.12,429.89 180.78,428.63 182.43,427.33 184.08,425.99 185.74,424.63 187.39,423.23 189.04,421.8 190.7,420.34 192.35,418.86 194,417.35 195.66,415.82 197.31,414.27 198.96,412.71 200.62,411.12 202.27,409.52 203.92,407.91 205.58,406.29 207.23,404.66 208.88,403.02 210.54,401.38 212.19,399.73 213.84,398.08 215.5,396.43 217.15,394.78 218.8,393.14 220.46,391.5 222.11,389.87 223.76,388.24 225.42,386.63 227.07,385.02 228.72,383.43 230.38,381.86 232.03,380.29 233.68,378.75 235.34,377.22 236.99,375.72 238.64,374.23 240.29,372.76 241.95,371.32 243.6,369.9 245.25,368.51 246.91,367.14 248.56,365.8 250.21,364.49 251.87,363.21 253.52,361.95 255.17,360.73 256.83,359.54 258.48,358.38 260.13,357.25 261.79,356.16 263.44,355.1 265.09,354.08 266.75,353.09 268.4,352.14 270.05,351.22 271.71,350.35 273.36,349.51 275.01,348.71 276.67,347.94 278.32,347.22 279.97,346.53 281.63,345.89 283.28,345.28 284.93,344.72 286.59,344.19 288.24,343.71 289.89,343.27 291.55,342.87 293.2,342.51 294.85,342.19 296.51,341.92 298.16,341.69 299.81,341.5 301.47,341.35 303.12,341.24 304.77,341.18 306.42,341.16 308.08,341.18 309.73,341.24 311.38,341.35 313.04,341.5 314.69,341.69 316.34,341.92 318,342.19 319.65,342.51 321.3,342.87 322.96,343.27 324.61,343.71 326.26,344.19 327.92,344.72 329.57,345.28 331.22,345.89 332.88,346.53 334.53,347.22 336.18,347.94 337.84,348.71 339.49,349.51 341.14,350.35 342.8,351.22 344.45,352.14 346.1,353.09 347.76,354.08 349.41,355.1 351.06,356.16 352.72,357.25 354.37,358.38 356.02,359.54 357.68,360.73 359.33,361.95 360.98,363.21 362.64,364.49 364.29,365.8 365.94,367.14 367.6,368.51 369.25,369.9 370.9,371.32 372.56,372.76 374.21,374.23 375.86,375.72 377.51,377.22 379.17,378.75 380.82,380.29 382.47,381.86 384.13,383.43 385.78,385.02 387.43,386.63 389.09,388.24 390.74,389.87 392.39,391.5 394.05,393.14 395.7,394.78 397.35,396.43 399.01,398.08 400.66,399.73 402.31,401.38 403.97,403.02 405.62,404.66 407.27,406.29 408.93,407.91 410.58,409.52 412.23,411.12 413.89,412.71 415.54,414.27 417.19,415.82 418.85,417.35 420.5,418.86 422.15,420.34 423.81,421.8 425.46,423.23 427.11,424.63 428.77,425.99 430.42,427.33 432.07,428.63 433.73,429.89 435.38,431.11 437.03,432.29 438.68,433.43 440.34,434.52 441.99,435.57 443.64,436.58 445.3,437.53 446.95,438.43 448.6,439.28 450.26,440.08 451.91,440.83 453.56,441.52 455.22,442.15 456.87,442.73 458.52,443.25 460.18,443.7 461.83,444.1 463.48,444.44 465.14,444.72 466.79,444.94 468.44,445.09 470.1,445.19 471.75,445.22 473.4,445.19 475.06,445.09 476.71,444.94 478.36,444.72 480.02,444.44 481.67,444.1 483.32,443.7 484.98,443.25 486.63,442.73 488.28,442.15 489.94,441.52 491.59,440.83 493.24,440.08 494.9,439.28 496.55,438.43 498.2,437.53 499.86,436.58 501.51,435.57 503.16,434.52 504.82,433.43 506.47,432.29 508.12,431.11 509.77,429.89 511.43,428.63 513.08,427.33 514.73,425.99 516.39,424.63 518.04,423.23 519.69,421.8 521.35,420.34 523,418.86 524.65,417.35 526.31,415.82 527.96,414.27 529.61,412.71 531.27,411.12 532.92,409.52 534.57,407.91 536.23,406.29 537.88,404.66 539.53,403.02 541.19,401.38 542.84,399.73 544.49,398.08 546.15,396.43 547.8,394.78 549.45,393.14 551.11,391.5 552.76,389.87 554.41,388.24 556.07,386.63 557.72,385.02 559.37,383.43 561.03,381.86 562.68,380.29 564.33,378.75 565.99,377.22 567.64,375.72 569.29,374.23 570.94,372.76 572.6,371.32 574.25,369.9 575.9,368.51 577.56,367.14 579.21,365.8 580.86,364.49 582.52,363.21 584.17,361.95 585.82,360.73 587.48,359.54 589.13,358.38 590.78,357.25 592.44,356.16 594.09,355.1 595.74,354.08 597.4,353.09 599.05,352.14 600.7,351.22 602.36,350.35 604.01,349.51 605.66,348.71 607.32,347.94 608.97,347.22 610.62,346.53 612.28,345.89 613.93,345.28 615.58,344.72 617.24,344.19 618.89,343.71 620.54,343.27 622.2,342.87 623.85,342.51 625.5,342.19 627.16,341.92 628.81,341.69 630.46,341.5 632.12,341.35 633.77,341.24 635.42,341.18 637.07,341.16 638.73,341.18 640.38,341.24 642.03,341.35 643.69,341.5 645.34,341.69 646.99,341.92 648.65,342.19 650.3,342.51 651.95,342.87 653.61,343.27 655.26,343.71 656.91,344.19 658.57,344.72 660.22,345.28 661.87,345.89 663.53,346.53 665.18,347.22 666.83,347.94 668.49,348.71 670.14,349.51 671.79,350.35 673.45,351.22 675.1,352.14 676.75,353.09 678.41,354.08 680.06,355.1 681.71,356.16 683.37,357.25 685.02,358.38 686.67,359.54 688.33,360.73 689.98,361.95 691.63,363.21 693.29,364.49 694.94,365.8 696.59,367.14 698.25,368.51 699.9,369.9 701.55,371.32 703.2,372.76 704.86,374.23 706.51,375.72 708.16,377.22 709.82,378.75 711.47,380.29 713.12,381.86 714.78,383.43 716.43,385.02 718.08,386.63 719.74,388.24 721.39,389.87 723.04,391.5 724.7,393.14 726.35,394.78 728,396.43 729.66,398.08 731.31,399.73 732.96,401.38 734.62,403.02 736.27,404.66 737.92,406.29 739.58,407.91 741.23,409.52 742.88,411.12 744.54,412.71 746.19,414.27 747.84,415.82 749.5,417.35 751.15,418.86 752.8,420.34 754.46,421.8 756.11,423.23 757.76,424.63 759.42,425.99 761.07,427.33 762.72,428.63 764.38,429.89 766.03,431.11 767.68,432.29 769.34,433.43 770.99,434.52 772.64,435.57 774.29,436.58 775.95,437.53 777.6,438.43 779.25,439.28 780.91,440.08 782.56,440.83 784.21,441.52 785.87,442.15 787.52,442.73 789.17,443.25 790.83,443.7 792.48,444.1 794.13,444.44 795.79,444.72 797.44,444.94 799.09,445.09 800.75,445.19 802.4,445.22" fill="none" stroke="#00ff00" stroke-width="1.3" stroke-linejoin="round"/>
<polyline points="157.63,444.24 159.29,444.03 160.94,443.81 162.59,443.57 164.25,443.31 165.9,443.04 167.55,442.74 169.21,442.43 170.86,442.11 172.51,441.77 174.16,441.41 175.82,441.03 177.47,440.64 179.12,440.24 180.78,439.82 182.43,439.39 184.08,438.95 185.74,438.49 187.39,438.03 189.04,437.55 190.7,437.05 192.35,436.55 194,436.04 195.66,435.52 197.31,434.99 198.96,434.45 200.62,433.91 202.27,433.35 203.92,432.79 205.58,432.23 207.23,431.66 208.88,431.08 210.54,430.5 212.19,429.92 213.84,429.33 215.5,428.75 217.15,428.16 218.8,427.57 220.46,426.97 222.11,426.38 223.76,425.79 225.42,425.2 227.07,424.61 228.72,424.03 230.38,423.44 232.03,422.87 233.68,422.29 235.34,421.72 236.99,421.15 238.64,420.59 240.29,420.04 241.95,419.49 243.6,418.95 245.25,418.42 246.91,417.9 248.56,417.38 250.21,416.87 251.87,416.38 253.52,415.89 255.17,415.41 256.83,414.95 258.48,414.49 260.13,414.05 261.79,413.62 263.44,413.2 265.09,412.8 266.75,412.41 268.4,412.03 270.05,411.66 271.71,411.31 273.36,410.97 275.01,410.65 276.67,410.34 278.32,410.05 279.97,409.77 281.63,409.51 283.28,409.27 284.93,409.04 286.59,408.83 288.24,408.63 289.89,408.45 291.55,408.29 293.2,408.14 294.85,408.01 296.51,407.9 298.16,407.8 299.81,407.72 301.47,407.66 303.12,407.62 304.77,407.59 306.42,407.58 308.08,407.59 309.73,407.62 311.38,407.66 313.04,407.72 314.69,407.8 316.34,407.9 318,408.01 319.65,408.14 321.3,408.29 322.96,408.45 324.61,408.63 326.26,408.83 327.92,409.04 329.57,409.27 331.22,409.51 332.88,409.77 334.53,410.05 336.18,410.34 337.84,410.65 339.49,410.97 341.14,411.31 342.8,411.66 344.45,412.03 346.1,412.41 347.76,412.8 349.41,413.2 351.06,413.62 352.72,414.05 354.37,414.49 356.02,414.95 357.68,415.41 359.33,415.89 360.98,416.38 362.64,416.87 364.29,417.38 365.94,417.9 367.6,418.42 369.25,418.95 370.9,419.49 372.56,420.04 374.21,420.59 375.86,421.15 377.51,421.72 379.17,422.29 380.82,422.87 382.47,423.44 384.13,424.03 385.78,424.61 387.43,425.2 389.09,425.79 390.74,426.38 392.39,426.97 394.05,427.57 395.7,428.16 397.35,428.75 399.01,429.33 400.66,429.92 402.31,430.5 403.97,431.08 405.62,431.66 407.27,432.23 408.93,432.79 410.58,433.35 412.23,433.91 413.89,434.45 415.54,434.99 417.19,435.52 418.85,436.04 420.5,436.55 422.15,437.05 423.81,437.55 425.46,438.03 427.11,438.49 428.77,438.95 430.42,439.39 432.07,439.82 433.73,440.24 435.38,440.64 437.03,441.03 438.68,441.41 440.34,441.77 441.99,442.11 443.64,442.43 445.3,442.74 446.95,443.04 448.6,443.31 450.26,443.57 451.91,443.81 453.56,444.03 455.22,444.24 456.87,444.42 458.52,444.59 460.18,444.73 461.83,444.86 463.48,444.97 465.14,445.06 466.79,445.13 468.44,445.18 470.1,445.21 471.75,445.22 473.4,445.21 475.06,445.18 476.71,445.13 478.36,445.06 480.02,444.97 481.67,444.86 483.32,444.73 484.98,444.59 486.63,444.42 488.28,444.24 489.94,444.03 491.59,443.81 493.24,443.57 494.9,443.31 496.55,443.04 498.2,442.74 499.86,442.43 501.51,442.11 503.16,441.77 504.82,441.41 506.47,441.03 508.12,440.64 509.77,440.24 511.43,439.82 513.08,439.39 514.73,438.95 516.39,438.49 518.04,438.03 519.69,437.55 521.35,437.05 523,436.55 524.65,436.04 526.31,435.52 527.96,434.99 529.61,434.45 531.27,433.91 532.92,433.35 534.57,432.79 536.23,432.23 537.88,431.66 539.53,431.08 541.19,430.5 542.84,429.92 544.49,429.33 546.15,428.75 547.8,428.16 549.45,427.57 551.11,426.97 552.76,426.38 554.41,425.79 556.07,425.2 557.72,424.61 559.37,424.03 561.03,423.44 562.68,422.87 564.33,422.29 565.99,421.72 567.64,421.15 569.29,420.59 570.94,420.04 572.6,419.49 574.25,418.95 575.9,418.42 577.56,417.9 579.21,417.38 580.86,416.87 582.52,416.38 584.17,415.89 585.82,415.41 587.48,414.95 589.13,414.49 590.78,414.05 592.44,413.62 594.09,413.2 595.74,412.8 597.4,412.41 599.05,412.03 600.7,411.66 602.36,411.31 604.01,410.97 605.66,410.65 607.32,410.34 608.97,410.05 610.62,409.77 612.28,409.51 613.93,409.27 615.58,409.04 617.24,408.83 618.89,408.63 620.54,408.45 622.2,408.29 623.85,408.14 625.5,408.01 627.16,407.9 628.81,407.8 630.46,407.72 632.12,407.66 633.77,407.62 635.42,407.59 637.07,407.58 638.73,407.59 640.38,407.62 642.03,407.66 643.69,407.72 645.34,407.8 646.99,407.9 648.65,408.01 650.3,408.14 651.95,408.29 653.61,408.45 655.26,408.63 656.91,408.83 658.57,409.04 660.22,409.27 661.87,409.51 663.53,409.77 665.18,410.05 666.83,410.34 668.49,410.65 670.14,410.97 671.79,411.31 673.45,411.66 675.1,412.03 676.75,412.41 678.41,412.8 680.06,413.2 681.71,413.62 683.37,414.05 685.02,414.49 686.67,414.95 688.33,415.41 689.98,415.89 691.63,416.38 693.29,416.87 694.94,417.38 696.59,417.9 698.25,418.42 699.9,418.95 701.55,419.49 703.2,420.04 704.86,420.59 706.51,421.15 708.16,421.72 709.82,422.29 711.47,422.87 713.12,423.44 714.78,424.03 716.43,424.61 718.08,425.2 719.74,425.79 721.39,426.38 723.04,426.97 724.7,427.57 726.35,428.16 728,428.75 729.66,429.33 731.31,429.92 732.96,430.5 734.62,431.08 736.27,431.66 737.92,432.23 739.58,432.79 741.23,433.35 742.88,433.91 744.54,434.45 746.19,434.99 747.84,435.52 749.5,436.04 751.15,436.55 752.8,437.05 754.46,437.55 756.11,438.03 757.76,438.49 759.42,438.95 761.07,439.39 762.72,439.82 764.38,440.24 766.03,440.64 767.68,441.03 769.34,441.41 770.99,441.77 772.64,442.11 774.29,442.43 775.95,442.74 777.6,443.04 779.25,443.31 780.91,443.57 782.56,443.81 784.21,444.03 785.87,444.24 787.52,444.42 789.17,444.59 790.83,444.73 792.48,444.86 794.13,444.97 795.79,445.06 797.44,445.13 799.09,445.18 800.75,445.21 802.4,445.22" fill="none" stroke="#0000ff" stroke-width="1.3" stroke-linejoin="round"/>
<path d="M157.63 445.4H802.4" fill="none" stroke="#00ffff" stroke-width="1.3"/>
<polyline points="157.63,445.55 159.29,445.62 160.94,445.7 162.59,445.78 164.25,445.87 165.9,445.96 167.55,446.06 169.21,446.17 170.86,446.28 172.51,446.4 174.16,446.52 175.82,446.65 177.47,446.78 179.12,446.92 180.78,447.07 182.43,447.22 184.08,447.37 185.74,447.53 187.39,447.7 189.04,447.87 190.7,448.04 192.35,448.22 194,448.4 195.66,448.58 197.31,448.77 198.96,448.96 200.62,449.16 202.27,449.35 203.92,449.55 205.58,449.76 207.23,449.96 208.88,450.17 210.54,450.38 212.19,450.59 213.84,450.81 215.5,451.02 217.15,451.24 218.8,451.45 220.46,451.67 222.11,451.89 223.76,452.11 225.42,452.33 227.07,452.55 228.72,452.77 230.38,452.98 232.03,453.2 233.68,453.42 235.34,453.63 236.99,453.85 238.64,454.06 240.29,454.27 241.95,454.48 243.6,454.69 245.25,454.89 246.91,455.09 248.56,455.29 250.21,455.49 251.87,455.68 253.52,455.87 255.17,456.05 256.83,456.23 258.48,456.41 260.13,456.58 261.79,456.75 263.44,456.92 265.09,457.08 266.75,457.23 268.4,457.38 270.05,457.53 271.71,457.67 273.36,457.8 275.01,457.93 276.67,458.05 278.32,458.17 279.97,458.28 281.63,458.38 283.28,458.48 284.93,458.57 286.59,458.66 288.24,458.74 289.89,458.81 291.55,458.88 293.2,458.94 294.85,458.99 296.51,459.03 298.16,459.07 299.81,459.1 301.47,459.13 303.12,459.15 304.77,459.16 306.42,459.16 308.08,459.16 309.73,459.15 311.38,459.13 313.04,459.1 314.69,459.07 316.34,459.03 318,458.99 319.65,458.94 321.3,458.88 322.96,458.81 324.61,458.74 326.26,458.66 327.92,458.57 329.57,458.48 331.22,458.38 332.88,458.28 334.53,458.17 336.18,458.05 337.84,457.93 339.49,457.8 341.14,457.67 342.8,457.53 344.45,457.38 346.1,457.23 347.76,457.08 349.41,456.92 351.06,456.75 352.72,456.58 354.37,456.41 356.02,456.23 357.68,456.05 359.33,455.87 360.98,455.68 362.64,455.49 364.29,455.29 365.94,455.09 367.6,454.89 369.25,454.69 370.9,454.48 372.56,454.27 374.21,454.06 375.86,453.85 377.51,453.63 379.17,453.42 380.82,453.2 382.47,452.98 384.13,452.77 385.78,452.55 387.43,452.33 389.09,452.11 390.74,451.89 392.39,451.67 394.05,451.45 395.7,451.24 397.35,451.02 399.01,450.81 400.66,450.59 402.31,450.38 403.97,450.17 405.62,449.96 407.27,449.76 408.93,449.55 410.58,449.35 412.23,449.16 413.89,448.96 415.54,448.77 417.19,448.58 418.85,448.4 420.5,448.22 422.15,448.04 423.81,447.87 425.46,447.7 427.11,447.53 428.77,447.37 430.42,447.22 432.07,447.07 433.73,446.92 435.38,446.78 437.03,446.65 438.68,446.52 440.34,446.4 441.99,446.28 443.64,446.17 445.3,446.06 446.95,445.96 448.6,445.87 450.26,445.78 451.91,445.7 453.56,445.62 455.22,445.55 456.87,445.49 458.52,445.43 460.18,445.38 461.83,445.34 463.48,445.3 465.14,445.27 466.79,445.25 468.44,445.23 470.1,445.22 471.75,445.22 473.4,445.22 475.06,445.23 476.71,445.25 478.36,445.27 480.02,445.3 481.67,445.34 483.32,445.38 484.98,445.43 486.63,445.49 488.28,445.55 489.94,445.62 491.59,445.7 493.24,445.78 494.9,445.87 496.55,445.96 498.2,446.06 499.86,446.17 501.51,446.28 503.16,446.4 504.82,446.52 506.47,446.65 508.12,446.78 509.77,446.92 511.43,447.07 513.08,447.22 514.73,447.37 516.39,447.53 518.04,447.7 519.69,447.87 521.35,448.04 523,448.22 524.65,448.4 526.31,448.58 527.96,448.77 529.61,448.96 531.27,449.16 532.92,449.35 534.57,449.55 536.23,449.76 537.88,449.96 539.53,450.17 541.19,450.38 542.84,450.59 544.49,450.81 546.15,451.02 547.8,451.24 549.45,451.45 551.11,451.67 552.76,451.89 554.41,452.11 556.07,452.33 557.72,452.55 559.37,452.77 561.03,452.98 562.68,453.2 564.33,453.42 565.99,453.63 567.64,453.85 569.29,454.06 570.94,454.27 572.6,454.48 574.25,454.69 575.9,454.89 577.56,455.09 579.21,455.29 580.86,455.49 582.52,455.68 584.17,455.87 585.82,456.05 587.48,456.23 589.13,456.41 590.78,456.58 592.44,456.75 594.09,456.92 595.74,457.08 597.4,457.23 599.05,457.38 600.7,457.53 602.36,457.67 604.01,457.8 605.66,457.93 607.32,458.05 608.97,458.17 610.62,458.28 612.28,458.38 613.93,458.48 615.58,458.57 617.24,458.66 618.89,458.74 620.54,458.81 622.2,458.88 623.85,458.94 625.5,458.99 627.16,459.03 628.81,459.07 630.46,459.1 632.12,459.13 633.77,459.15 635.42,459.16 637.07,459.16 638.73,459.16 640.38,459.15 642.03,459.13 643.69,459.1 645.34,459.07 646.99,459.03 648.65,458.99 650.3,458.94 651.95,458.88 653.61,458.81 655.26,458.74 656.91,458.66 658.57,458.57 660.22,458.48 661.87,458.38 663.53,458.28 665.18,458.17 666.83,458.05 668.49,457.93 670.14,457.8 671.79,457.67 673.45,457.53 675.1,457.38 676.75,457.23 678.41,457.08 680.06,456.92 681.71,456.75 683.37,456.58 685.02,456.41 686.67,456.23 688.33,456.05 689.98,455.87 691.63,455.68 693.29,455.49 694.94,455.29 696.59,455.09 698.25,454.89 699.9,454.69 701.55,454.48 703.2,454.27 704.86,454.06 706.51,453.85 708.16,453.63 709.82,453.42 711.47,453.2 713.12,452.98 714.78,452.77 716.43,452.55 718.08,452.33 719.74,452.11 721.39,451.89 723.04,451.67 724.7,451.45 726.35,451.24 728,451.02 729.66,450.81 731.31,450.59 732.96,450.38 734.62,450.17 736.27,449.96 737.92,449.76 739.58,449.55 741.23,449.35 742.88,449.16 744.54,448.96 746.19,448.77 747.84,448.58 749.5,448.4 751.15,448.22 752.8,448.04 754.46,447.87 756.11,447.7 757.76,447.53 759.42,447.37 761.07,447.22 762.72,447.07 764.38,446.92 766.03,446.78 767.68,446.65 769.34,446.52 770.99,446.4 772.64,446.28 774.29,446.17 775.95,446.06 777.6,445.96 779.25,445.87 780.91,445.78 782.56,445.7 784.21,445.62 785.87,445.55 787.52,445.49 789.17,445.43 790.83,445.38 792.48,445.34 794.13,445.3 795.79,445.27 797.44,445.25 799.09,445.23 800.75,445.22 802.4,445.22" fill="none" stroke="#000000" stroke-width="1.3" stroke-linejoin="round"/>
<polyline points="157.63,445.8 159.29,445.93 160.94,446.06 162.59,446.21 164.25,446.36 165.9,446.53 167.55,446.7 169.21,446.89 170.86,447.09 172.51,447.3 174.16,447.52 175.82,447.74 177.47,447.98 179.12,448.23 180.78,448.49 182.43,448.75 184.08,449.02 185.74,449.31 187.39,449.6 189.04,449.9 190.7,450.2 192.35,450.51 194,450.84 195.66,451.16 197.31,451.5 198.96,451.84 200.62,452.18 202.27,452.53 203.92,452.89 205.58,453.25 207.23,453.62 208.88,453.99 210.54,454.36 212.19,454.74 213.84,455.12 215.5,455.51 217.15,455.89 218.8,456.28 220.46,456.67 222.11,457.06 223.76,457.45 225.42,457.85 227.07,458.24 228.72,458.63 230.38,459.02 232.03,459.41 233.68,459.8 235.34,460.19 236.99,460.57 238.64,460.96 240.29,461.34 241.95,461.71 243.6,462.08 245.25,462.45 246.91,462.82 248.56,463.18 250.21,463.53 251.87,463.88 253.52,464.22 255.17,464.55 256.83,464.88 258.48,465.2 260.13,465.52 261.79,465.82 263.44,466.12 265.09,466.41 266.75,466.69 268.4,466.97 270.05,467.23 271.71,467.48 273.36,467.72 275.01,467.96 276.67,468.18 278.32,468.39 279.97,468.59 281.63,468.79 283.28,468.96 284.93,469.13 286.59,469.29 288.24,469.43 289.89,469.56 291.55,469.68 293.2,469.79 294.85,469.89 296.51,469.97 298.16,470.04 299.81,470.1 301.47,470.14 303.12,470.17 304.77,470.19 306.42,470.2 308.08,470.19 309.73,470.17 311.38,470.14 313.04,470.1 314.69,470.04 316.34,469.97 318,469.89 319.65,469.79 321.3,469.68 322.96,469.56 324.61,469.43 326.26,469.29 327.92,469.13 329.57,468.96 331.22,468.79 332.88,468.59 334.53,468.39 336.18,468.18 337.84,467.96 339.49,467.72 341.14,467.48 342.8,467.23 344.45,466.97 346.1,466.69 347.76,466.41 349.41,466.12 351.06,465.82 352.72,465.52 354.37,465.2 356.02,464.88 357.68,464.55 359.33,464.22 360.98,463.88 362.64,463.53 364.29,463.18 365.94,462.82 367.6,462.45 369.25,462.08 370.9,461.71 372.56,461.34 374.21,460.96 375.86,460.57 377.51,460.19 379.17,459.8 380.82,459.41 382.47,459.02 384.13,458.63 385.78,458.24 387.43,457.85 389.09,457.45 390.74,457.06 392.39,456.67 394.05,456.28 395.7,455.89 397.35,455.51 399.01,455.12 400.66,454.74 402.31,454.36 403.97,453.99 405.62,453.62 407.27,453.25 408.93,452.89 410.58,452.53 412.23,452.18 413.89,451.84 415.54,451.5 417.19,451.16 418.85,450.84 420.5,450.51 422.15,450.2 423.81,449.9 425.46,449.6 427.11,449.31 428.77,449.02 430.42,448.75 432.07,448.49 433.73,448.23 435.38,447.98 437.03,447.74 438.68,447.52 440.34,447.3 441.99,447.09 443.64,446.89 445.3,446.7 446.95,446.53 448.6,446.36 450.26,446.21 451.91,446.06 453.56,445.93 455.22,445.8 456.87,445.69 458.52,445.59 460.18,445.51 461.83,445.43 463.48,445.36 465.14,445.31 466.79,445.27 468.44,445.24 470.1,445.22 471.75,445.22 473.4,445.22 475.06,445.24 476.71,445.27 478.36,445.31 480.02,445.36 481.67,445.43 483.32,445.51 484.98,445.59 486.63,445.69 488.28,445.8 489.94,445.93 491.59,446.06 493.24,446.21 494.9,446.36 496.55,446.53 498.2,446.7 499.86,446.89 501.51,447.09 503.16,447.3 504.82,447.52 506.47,447.74 508.12,447.98 509.77,448.23 511.43,448.49 513.08,448.75 514.73,449.02 516.39,449.31 518.04,449.6 519.69,449.9 521.35,450.2 523,450.51 524.65,450.84 526.31,451.16 527.96,451.5 529.61,451.84 531.27,452.18 532.92,452.53 534.57,452.89 536.23,453.25 537.88,453.62 539.53,453.99 541.19,454.36 542.84,454.74 544.49,455.12 546.15,455.51 547.8,455.89 549.45,456.28 551.11,456.67 552.76,457.06 554.41,457.45 556.07,457.85 557.72,458.24 559.37,458.63 561.03,459.02 562.68,459.41 564.33,459.8 565.99,460.19 567.64,460.57 569.29,460.96 570.94,461.34 572.6,461.71 574.25,462.08 575.9,462.45 577.56,462.82 579.21,463.18 580.86,463.53 582.52,463.88 584.17,464.22 585.82,464.55 587.48,464.88 589.13,465.2 590.78,465.52 592.44,465.82 594.09,466.12 595.74,466.41 597.4,466.69 599.05,466.97 600.7,467.23 602.36,467.48 604.01,467.72 605.66,467.96 607.32,468.18 608.97,468.39 610.62,468.59 612.28,468.79 613.93,468.96 615.58,469.13 617.24,469.29 618.89,469.43 620.54,469.56 622.2,469.68 623.85,469.79 625.5,469.89 627.16,469.97 628.81,470.04 630.46,470.1 632.12,470.14 633.77,470.17 635.42,470.19 637.07,470.2 638.73,470.19 640.38,470.17 642.03,470.14 643.69,470.1 645.34,470.04 646.99,469.97 648.65,469.89 650.3,469.79 651.95,469.68 653.61,469.56 655.26,469.43 656.91,469.29 658.57,469.13 660.22,468.96 661.87,468.79 663.53,468.59 665.18,468.39 666.83,468.18 668.49,467.96 670.14,467.72 671.79,467.48 673.45,467.23 675.1,466.97 676.75,466.69 678.41,466.41 680.06,466.12 681.71,465.82 683.37,465.52 685.02,465.2 686.67,464.88 688.33,464.55 689.98,464.22 691.63,463.88 693.29,463.53 694.94,463.18 696.59,462.82 698.25,462.45 699.9,462.08 701.55,461.71 703.2,461.34 704.86,460.96 706.51,460.57 708.16,460.19 709.82,459.8 711.47,459.41 713.12,459.02 714.78,458.63 716.43,458.24 718.08,457.85 719.74,457.45 721.39,457.06 723.04,456.67 724.7,456.28 726.35,455.89 728,455.51 729.66,455.12 731.31,454.74 732.96,454.36 734.62,453.99 736.27,453.62 737.92,453.25 739.58,452.89 741.23,452.53 742.88,452.18 744.54,451.84 746.19,451.5 747.84,451.16 749.5,450.84 751.15,450.51 752.8,450.2 754.46,449.9 756.11,449.6 757.76,449.31 759.42,449.02 761.07,448.75 762.72,448.49 764.38,448.23 766.03,447.98 767.68,447.74 769.34,447.52 770.99,447.3 772.64,447.09 774.29,446.89 775.95,446.7 777.6,446.53 779.25,446.36 780.91,446.21 782.56,446.06 784.21,445.93 785.87,445.8 787.52,445.69 789.17,445.59 790.83,445.51 792.48,445.43 794.13,445.36 795.79,445.31 797.44,445.27 799.09,445.24 800.75,445.22 802.4,445.22" fill="none" stroke="#ff4d00" stroke-width="1.3" stroke-linejoin="round"/>
<path d="M141.1 470.2v-7.4M141.1 33v7.4M207.5 470.2v-7.4M207.5 33v7.4M273.5 470.2v-7.4M273.5 33v7.4M339.5 470.2v-7.4M339.5 33v7.4M405.5 470.2v-7.4M405.5 33v7.4M471.5 470.2v-7.4M471.5 33v7.4M537.5 470.2v-7.4M537.5 33v7.4M604.5 470.2v-7.4M604.5 33v7.4M670.5 470.2v-7.4M670.5 33v7.4M736.5 470.2v-7.4M736.5 33v7.4M802.4 470.2v-7.4M802.4 33v7.4M141.1 470.2h7.4M802.4 470.2h-7.4M141.1 407.74h7.4M802.4 407.74h-7.4M141.1 345.29h7.4M802.4 345.29h-7.4M141.1 282.83h7.4M802.4 282.83h-7.4M141.1 220.37h7.4M802.4 220.37h-7.4M141.1 157.91h7.4M802.4 157.91h-7.4M141.1 95.46h7.4M802.4 95.46h-7.4M141.1 33h7.4M802.4 33h-7.4" stroke="#000" stroke-width="1.45" fill="none"/>
<rect x="141.1" y="33.0" width="661.3" height="437.2" fill="none" stroke="#000" stroke-width="1.5"/>
</svg></body></html>
